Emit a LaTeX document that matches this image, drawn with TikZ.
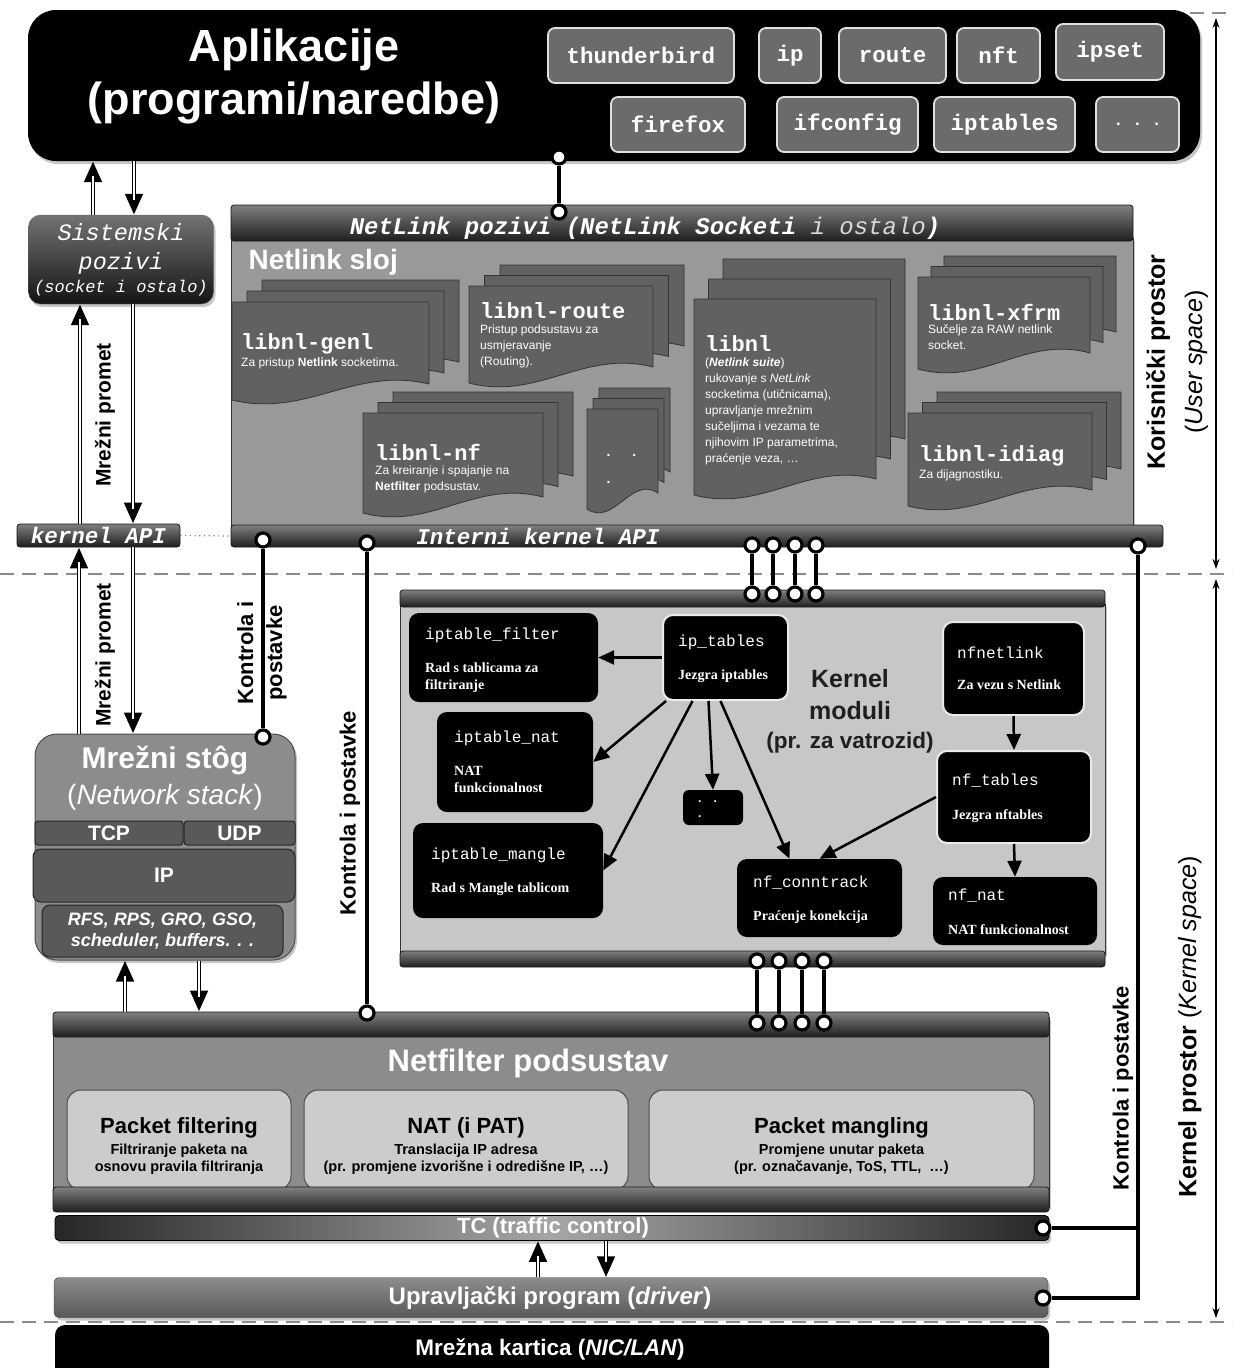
\documentclass[tikz,border=0pt]{standalone}
\usepackage{fontspec}
\setmainfont{Liberation Sans}
\setmonofont{Liberation Mono}
\newfontfamily\timesf{Liberation Serif}
\usetikzlibrary{arrows.meta,shadows}

\newcommand{\fsz}[2]{\fontsize{#1}{#2}\selectfont}

% jedna stranica dokumenta (x, vrh, sirina, visina)
\newcommand{\docpage}[4]{%
  \filldraw[docpage] (#1,#2) -- (#1+#3,#2) -- (#1+#3,#2+#4-16)
    .. controls (#1+0.62*#3,#2+#4-34) and (#1+0.38*#3,#2+#4+18) .. (#1,#2+#4) -- cycle;}
% tri stranice jedna iza druge (x, vrh, sirina, visina, dx, dy)
\newcommand{\docstack}[6]{%
  \docpage{#1+2*#5}{#2-2*#6}{#3}{#4}
  \docpage{#1+#5}{#2-#6}{#3}{#4}
  \docpage{#1}{#2}{#3}{#4}}

\begin{document}
\begin{tikzpicture}[x=1pt, y=-1pt,
  darkbar/.style={rectangle, inner sep=0pt, draw=black!90, line width=0.8pt, rounded corners=3pt, top color=black!50, bottom color=black!88},
  appbtn/.style={rectangle, rounded corners=7pt, fill=black!58, draw=black!12, line width=1.8pt, text=white, font=\ttfamily\bfseries\fsz{22.5}{26}, inner sep=0pt},
  docpage/.style={fill=black!62, draw=black!80, line width=0.8pt},
  doctitle/.style={anchor=west, inner sep=0pt, text=white, font=\ttfamily\bfseries\fsz{22}{24}},
  docdesc/.style={anchor=north west, inner sep=0pt, text=white, align=left, font=\fsz{12}{16}},
  modbox/.style={rectangle, rounded corners=10pt, fill=black, inner sep=0pt},
  modboxw/.style={modbox, draw=black!8, line width=2pt},
  modtitle/.style={anchor=west, inner sep=0pt, text=white, font=\ttfamily\fsz{16}{18}},
  moddesc/.style={anchor=north west, inner sep=0pt, text=white, align=left, font=\timesf\bfseries\fsz{14}{17}},
  modarrow/.style={draw=black, line width=2.5pt, -{Triangle[length=16pt,width=14pt]}},
  hflow/.style={draw=black, line width=4.5pt, -{Triangle[length=21pt,width=17pt]}, postaction={draw=white, line width=1.4pt, -, shorten >=15pt}},
  ctrl/.style={draw=black, line width=4pt},
  pinpt/.style={circle, fill=white, draw=black, line width=3.2pt, minimum size=14pt, inner sep=0pt},
  divline/.style={draw=black!45, line width=2.5pt, dash pattern=on 14pt off 8pt},
  spacearr/.style={draw=black, line width=1.3pt, {Stealth[length=10pt,width=7pt]}-{Stealth[length=10pt,width=7pt]}},
  sidelbl/.style={rotate=90, inner sep=0pt, font=\bfseries\fsz{22}{26}},
  layerbox/.style={rectangle, inner sep=0pt, rounded corners=3pt, fill=black!65, draw=black!85, line width=1pt, text=white, font=\bfseries\fsz{21}{24}},
  subbox/.style={rectangle, rounded corners=14pt, fill=black!20, draw=black!70, line width=1pt, minimum height=100pt},
  subttl/.style={font=\bfseries\fsz{22}{24}},
  subdesc/.style={align=center, font=\bfseries\fsz{14.5}{16.5}},
  shadowed/.style={drop shadow={shadow xshift=2pt, shadow yshift=-3pt, opacity=0.45}}]

\useasboundingbox (0,0) rectangle (1232,1368);

% Granice prostora
\draw[divline] (1190,13) -- (1232,13);
\draw[divline] (0,574) -- (1232,574);
\draw[divline] (0,1322) -- (1232,1322);
\coordinate (utop) at (1216,18);
\coordinate (ubot) at (1216,569);
\coordinate (ktop) at (1216,579);
\coordinate (kbot) at (1216,1318);
\draw[spacearr] (utop) -- (ubot);
\draw[spacearr] (ktop) -- (kbot);
\node[sidelbl, align=center, font=\fsz{25}{38}] (userlbl) at (1177,362) {\textbf{Korisnički prostor}\\(\textit{User space})};
\node[sidelbl, font=\fsz{25}{30}] (kernlbl) at (1190,1027) {\textbf{Kernel prostor} (\textit{Kernel space})};

% Aplikacije
\node[rectangle, rounded corners=28pt, fill=black, minimum width=1172pt, minimum height=151pt, shadowed] (apps) at (614,85.5) {};
\node[text=white, font=\bfseries\fsz{45}{54}] (appst1) at (294,50) {Aplikacije};
\node[text=white, font=\bfseries\fsz{45}{54}] (appst2) at (294,103) {(programi/naredbe)};
\node[appbtn, minimum width=186pt, minimum height=55pt] (thunderbird) at (641,55.5) {thunderbird};
\node[appbtn, minimum width=62pt, minimum height=55pt] (ip) at (790,55.5) {ip};
\node[appbtn, minimum width=107pt, minimum height=55pt] (route) at (892.5,55.5) {route};
\node[appbtn, minimum width=83pt, minimum height=55pt] (nft) at (998.5,55.5) {nft};
\node[appbtn, minimum width=108pt, minimum height=56pt] (ipset) at (1110,52) {ipset};
\node[appbtn, minimum width=134pt, minimum height=55pt] (firefox) at (678,124.5) {firefox};
\node[appbtn, minimum width=141pt, minimum height=55pt] (ifconfig) at (847.5,124.5) {ifconfig};
\node[appbtn, minimum width=141pt, minimum height=55pt] (iptables) at (1004.5,124.5) {iptables};
\node[appbtn, minimum width=83pt, minimum height=55pt, font=\ttfamily\bfseries\fsz{16}{18}] (moreapps) at (1137.5,124.5) {. . .};

% Sistemski pozivi i kernel API
\node[rectangle, rounded corners=12pt, minimum width=185pt, minimum height=89pt, top color=black!55, bottom color=black!92, draw=black!60, shadowed] (sys) at (121,259.5) {};
\node[text=white, align=center, font=\ttfamily\itshape\fsz{23.5}{29}] (systxt) at (121,249) {Sistemski\\pozivi};
\node[text=white, font=\ttfamily\itshape\fsz{17}{20}] (sysnote) at (121,288) {(socket i ostalo)};
\node[darkbar, minimum width=163pt, minimum height=23pt, text=white, font=\ttfamily\bfseries\itshape\fsz{22.5}{24}] (kapi) at (98.5,535.5) {kernel API};

% Netlink sloj
\node[rectangle, fill=black!40, draw=black!80, line width=0.8pt, minimum width=902pt, minimum height=290pt, shadowed] (nlbody) at (682,383) {};
\node[anchor=west, text=white, font=\bfseries\fsz{28}{30}] (nlsloj) at (245,262) {Netlink sloj};

\docstack{232}{302}{197}{98}{15}{11}
\docstack{469}{286}{184}{97}{15.5}{10.5}
\docstack{694}{299}{182}{196}{14.5}{20}
\docstack{918}{277}{172}{92}{13}{10.5}
\docstack{363}{413}{180}{100}{15}{10.5}
\docstack{587}{409}{71}{100}{6}{10.5}
\docstack{908}{413}{184}{93}{14.5}{10.5}

\node[doctitle] (genl) at (241,344) {libnl-genl};
\node[docdesc] (genld) at (241,358) {Za pristup \textbf{Netlink} socketima.};
\node[doctitle] (nlroute) at (480,311) {libnl-route};
\node[docdesc] (nlrouted) at (480,325) {Pristup podsustavu za\\usmjeravanje\\(Routing).};
\node[doctitle] (libnl) at (705,344) {libnl};
\node[docdesc] (libnld) at (705,358) {(\textbf{\textit{Netlink suite}})\\rukovanje s \textit{NetLink}\\socketima (utičnicama),\\upravljanje mrežnim\\sučeljima i vezama te\\njihovim IP parametrima,\\praćenje veza, …};
\node[doctitle] (xfrm) at (928,312) {libnl-xfrm};
\node[docdesc] (xfrmd) at (928,325) {Sučelje za RAW netlink\\socket.};
\node[doctitle] (nlnf) at (375,452) {libnl-nf};
\node[docdesc] (nlnfd) at (375,466) {Za kreiranje i spajanje na\\\textbf{Netfilter} podsustav.};
\node[doctitle] (idiag) at (919,456) {libnl-idiag};
\node[docdesc] (idiagd) at (919,470) {Za dijagnostiku.};
\node[anchor=west, text=white, font=\bfseries\fsz{14}{16}] (ldots1) at (603,455) {.\hspace{22pt}.};
\node[anchor=west, text=white, font=\bfseries\fsz{14}{16}] (ldots2) at (603,482) {.};

\node[darkbar, minimum width=902pt, minimum height=36pt] (nlhead) at (682,223) {};
\node[text=white, font=\ttfamily\bfseries\itshape\fsz{24}{26}] (nlheadtxt) at (645,228) {NetLink pozivi (NetLink Socketi {\mdseries\color{black!15} i ostalo})};
\node[darkbar, minimum width=932pt, minimum height=22pt] (ikapi) at (697,536) {};
\node[text=white, font=\ttfamily\bfseries\itshape\fsz{22.5}{24}] (ikapitxt) at (538,536) {Interni kernel API};
\draw[black!50, line width=1.2pt, dash pattern=on 1.2pt off 3.5pt] (kapi.east) -- (ikapi.west);

% Kernel moduli
\node[rectangle, fill=black!22, draw=black!80, minimum width=705pt, minimum height=350pt, shadowed] (modbody) at (752.5,779) {};
\node[darkbar, minimum width=705pt, minimum height=17pt] (modtop) at (752.5,598.5) {};
\node[darkbar, minimum width=705pt, minimum height=16pt] (modbot) at (752.5,959) {};
\node[text=black!88, font=\bfseries\fsz{25}{28}] (km1) at (850,679) {Kernel};
\node[text=black!88, font=\bfseries\fsz{25}{28}] (km2) at (850,711) {moduli};
\node[text=black!88, font=\bfseries\fsz{22.5}{26}] (km3) at (850,743) {(pr. za vatrozid)};

\node[modbox, minimum width=189pt, minimum height=89pt] (iptfilter) at (503.5,657.5) {};
\node[modtitle] (iptfiltert) at (425,635) {iptable\_filter};
\node[moddesc] (iptfilterd) at (425,663) {Rad s tablicama za\\filtriranje};
\node[modboxw, minimum width=125pt, minimum height=85pt] (iptcore) at (725.5,657.5) {};
\node[modtitle] (iptcoret) at (678,642) {ip\_tables};
\node[moddesc] (iptcored) at (678,670) {Jezgra iptables};
\node[modbox, minimum width=156pt, minimum height=100pt] (iptnat) at (515,762) {};
\node[modtitle] (iptnatt) at (454,738) {iptable\_nat};
\node[moddesc] (iptnatd) at (454,766) {NAT\\funkcionalnost};
\node[modbox, minimum width=190pt, minimum height=95pt] (iptmangle) at (508,870.5) {};
\node[modtitle] (iptmanglet) at (431,855) {iptable\_mangle};
\node[moddesc] (iptmangled) at (431,883) {Rad s Mangle tablicom};
\node[modbox, rounded corners=6pt, minimum width=60pt, minimum height=35pt] (moddots) at (713,807.5) {};
\node[anchor=west, text=white, font=\bfseries\fsz{12}{14}, inner sep=0pt] (moddots1) at (698,802) {.\hspace{12pt}.};
\node[anchor=west, text=white, font=\bfseries\fsz{12}{14}, inner sep=0pt] (moddots2) at (698,817) {.};
\node[modbox, minimum width=165pt, minimum height=78pt] (conntrack) at (819.5,898) {};
\node[modtitle] (conntrackt) at (753,883) {nf\_conntrack};
\node[moddesc] (conntrackd) at (753,911) {Praćenje konekcija};
\node[modboxw, minimum width=141pt, minimum height=93pt] (nfnetlink) at (1013.5,668.5) {};
\node[modtitle] (nfnetlinkt) at (957,653) {nfnetlink};
\node[moddesc] (nfnetlinkd) at (957,680) {Za vezu s Netlink};
\node[modboxw, minimum width=154pt, minimum height=92pt] (nftables) at (1014,797) {};
\node[modtitle] (nftablest) at (952,781) {nf\_tables};
\node[moddesc] (nftablesd) at (952,809) {Jezgra nftables};
\node[modbox, minimum width=164pt, minimum height=68pt] (nfnat) at (1015,911) {};
\node[modtitle] (nfnatt) at (948,896) {nf\_nat};
\node[moddesc] (nfnatd) at (948,924) {NAT funkcionalnost};

\draw[modarrow] (iptcore.west) -- (iptfilter.east);
\draw[modarrow] ([xshift=4pt]iptcore.south west) -- (iptnat.east);
\draw[modarrow] ([xshift=-33pt]iptcore.south) -- (iptmangle.east);
\draw[modarrow] ([xshift=-17pt]iptcore.south) -- (moddots.north);
\draw[modarrow] ([xshift=-5pt]iptcore.south) -- ([xshift=-30pt]conntrack.north);
\draw[modarrow] (nfnetlink.south) -- (nftables.north);
\draw[modarrow] (nftables.west) -- (conntrack.north);
\draw[modarrow] (nftables.south) -- (nfnat.north);

% Mrezni stog
\node[rectangle, rounded corners=22pt, fill=black!45, draw=black!70, line width=1pt, minimum width=260pt, minimum height=226pt, shadowed] (stack) at (165,847) {};
\node[text=white, font=\bfseries\fsz{30}{32}] (stackttl) at (165,760) {Mrežni stôg};
\node[text=white, font=\fsz{28}{30}] (stacksub) at (165,797) {(\textit{Network stack})};
\node[layerbox, minimum width=148pt, minimum height=24pt] (tcp) at (109,833) {TCP};
\node[layerbox, minimum width=111pt, minimum height=24pt] (udp) at (239.5,833) {UDP};
\node[layerbox, rounded corners=8pt, minimum width=262pt, minimum height=53pt] (ip) at (164,875.5) {IP};
\node[layerbox, rounded corners=8pt, minimum width=241pt, minimum height=52pt, align=center, font=\bfseries\itshape\fsz{18}{21}] (rfs) at (162.5,931) {RFS, RPS, GRO, GSO,\\scheduler, buffers. . .};

% Netfilter
\node[rectangle, fill=black!45, draw=black!80, minimum width=996pt, minimum height=190pt, shadowed] (nfbody) at (551,1112) {};
\node[darkbar, minimum width=996pt, minimum height=25pt] (nftop) at (551,1024.5) {};
\node[text=white, font=\bfseries\fsz{31}{34}] (nfttl) at (528,1063) {Netfilter podsustav};
\node[subbox, minimum width=224pt] (pfilt) at (179,1140) {};
\node[subbox, minimum width=324pt] (pnat) at (466,1140) {};
\node[subbox, minimum width=385pt] (pmangle) at (841.5,1140) {};
\node[subttl] (pfiltt) at (179,1128) {Packet filtering};
\node[subdesc] (pfiltd) at (179,1159) {Filtriranje paketa na\\osnovu pravila filtriranja};
\node[subttl] (pnatt) at (466,1128) {NAT (i PAT)};
\node[subdesc] (pnatd) at (466,1159) {Translacija IP adresa\\(pr. promjene izvorišne i odredišne IP, …)};
\node[subttl] (pmanglet) at (841.5,1128) {Packet mangling};
\node[subdesc] (pmangled) at (841.5,1159) {Promjene unutar paketa\\(pr. označavanje, ToS, TTL,\ \ …)};
\node[darkbar, minimum width=996pt, minimum height=25pt] (nfbot) at (551,1199.5) {};

% TC, driver, kartica
\node[rectangle, rounded corners=4pt, draw=black, line width=0.8pt, left color=black!85, right color=black!85, middle color=black!35, minimum width=994pt, minimum height=25pt, shadowed] (tc) at (552,1228) {};
\node[text=white, font=\bfseries\fsz{22}{24}] (tctxt) at (553,1228) {TC (traffic control)};
\node[rectangle, rounded corners=5pt, draw=black!80, top color=black!45, bottom color=black!65, minimum width=994pt, minimum height=40pt, shadowed] (drv) at (551,1297.5) {};
\node[text=white, font=\bfseries\fsz{24}{26}] (drvtxt) at (550,1298) {Upravljački program (\textit{driver})};
\node[rectangle, rounded corners=10pt, fill=black, minimum width=994pt, minimum height=60pt] (nic) at (552,1355) {};
\node[text=white, font=\bfseries\fsz{22.5}{24}] (nictxt) at (550,1349) {Mrežna kartica (\textit{NIC/LAN})};

% Mrezni promet
\draw[hflow] (sys.north -| 93,0) -- (apps.south -| 93,0);
\draw[hflow] (apps.south -| 134,0) -- (sys.north -| 134,0);
\draw[hflow] (kapi.north -| 80,0) -- (sys.south -| 80,0);
\draw[hflow] (sys.south -| 133,0) -- (kapi.north -| 133,0);
\draw[hflow] (stack.north -| 79,0) -- (kapi.south -| 79,0);
\draw[hflow] (kapi.south -| 133,0) -- (stack.north -| 133,0);
\draw[hflow] (nftop.north -| 125,0) -- (stack.south -| 125,0);
\draw[hflow] (stack.south -| 199,0) -- (nftop.north -| 199,0);
\draw[hflow] (drv.north -| 538,0) -- (tc.south -| 538,0);
\draw[hflow] (tc.south -| 606,0) -- (drv.north -| 606,0);
\node[sidelbl, font=\bfseries\fsz{21}{24}] (mp1) at (105,415) {Mrežni promet};
\node[sidelbl, font=\bfseries\fsz{21}{24}] (mp2) at (105,655) {Mrežni promet};

% Kontrola i postavke
\node[pinpt] (pa1) at (559,157) {};
\node[pinpt] (pa2) at (559,212) {};
\draw[ctrl] (pa1) -- (pa2);
\node[pinpt] (pk1) at (263,540) {};
\node[pinpt] (pk2) at (263,737) {};
\draw[ctrl] (pk1) -- (pk2);
\node[pinpt] (pc1) at (367,543) {};
\node[pinpt] (pc2) at (367,1013) {};
\draw[ctrl] (pc1) -- (pc2);
\foreach \i/\xx in {1/752,2/773,3/795,4/816} {
  \node[pinpt] (mu\i) at (\xx,545) {};
  \node[pinpt] (md\i) at (\xx,594) {};
  \draw[ctrl] (mu\i) -- (md\i);
}
\foreach \i/\xx in {1/757,2/779,3/802,4/824} {
  \node[pinpt] (nu\i) at (\xx,961) {};
  \node[pinpt] (nd\i) at (\xx,1023) {};
  \draw[ctrl] (nu\i) -- (nd\i);
}
\node[pinpt] (pr) at (1138,546) {};
\node[pinpt] (ptc) at (1043,1228) {};
\node[pinpt] (pdrv) at (1043,1298) {};
\draw[ctrl] (pr) |- (pdrv);
\draw[ctrl] (ptc) -- (ptc -| pr);

\node[sidelbl, align=center, font=\bfseries\fsz{22}{29}] (ctl1) at (262,653) {Kontrola i\\postavke};
\node[sidelbl] (ctl2) at (350,813) {Kontrola i postavke};
\node[sidelbl] (ctl3) at (1123,1088) {Kontrola i postavke};
\end{tikzpicture}
\end{document}
